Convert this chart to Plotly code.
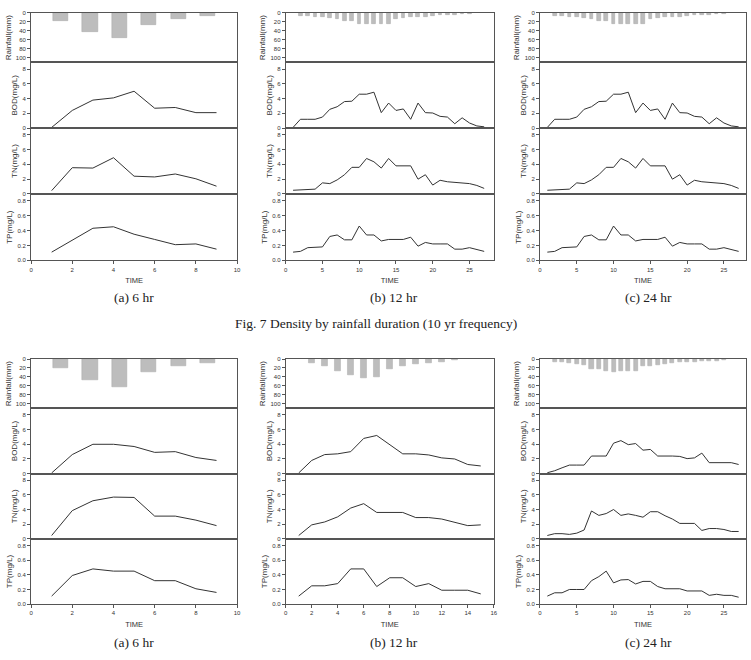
import plotly.graph_objects as go

W, H = 751, 660

# ---------------- data ----------------
# (a) 6 hr  -- hourly rainfall bars, 9 sampling times
rain_hours_6 = [1, 2, 3, 4, 5, 6]
time_6 = [1, 2, 3, 4, 5, 6, 7, 8, 9]

rain_a1 = [17, 42, 56, 26, 13, 7]
bod_a1 = [0.1, 2.4, 3.8, 4.1, 5.0, 2.7, 2.8, 2.1, 2.1]
tn_a1 = [0.45, 3.55, 3.5, 4.9, 2.4, 2.3, 2.7, 2.05, 1.05]
tp_a1 = [0.11, 0.27, 0.43, 0.45, 0.35, 0.28, 0.21, 0.22, 0.15]

rain_a2 = [20, 48, 63, 30, 15, 8]
bod_a2 = [0.1, 2.6, 4.0, 4.0, 3.7, 2.9, 3.0, 2.2, 1.8]
tn_a2 = [0.45, 3.85, 5.2, 5.7, 5.65, 3.1, 3.1, 2.55, 1.8]
tp_a2 = [0.11, 0.39, 0.48, 0.45, 0.45, 0.32, 0.32, 0.21, 0.16]

# (b)/(c) long series, 27 sampling times
time_27 = list(range(1, 28))
rain_time_24 = list(range(2, 26))

rain_b1 = [6, 6, 8, 9, 12, 13, 18, 18, 24, 25, 25, 24, 24, 13, 12, 10, 9, 8, 6, 5, 5, 4, 3, 2]
bod_b1 = [0.1, 1.2, 1.2, 1.2, 1.5, 2.55, 2.9, 3.6, 3.65, 4.6, 4.6, 4.87, 2.1, 3.4,
          2.4, 2.6, 1.2, 3.4, 2.1, 2.05, 1.6, 1.5, 0.6, 1.4, 0.7, 0.3, 0.18]
tn_b1 = [0.5, 0.55, 0.65, 0.65, 1.5, 1.4, 1.9, 2.6, 3.6, 3.6, 4.8, 4.35, 3.5, 4.8,
         3.8, 3.8, 3.8, 2.0, 2.6, 1.2, 1.85, 1.65, 1.55, 1.55, 1.4, 1.15, 0.75]
tp_b1 = [0.11, 0.12, 0.17, 0.18, 0.18, 0.32, 0.34, 0.275, 0.275, 0.46, 0.34, 0.34,
         0.26, 0.28, 0.28, 0.28, 0.31, 0.19, 0.24, 0.22, 0.22, 0.22, 0.15, 0.15,
         0.17, 0.15, 0.12]

rain_c1 = [6, 6, 8, 9, 12, 13, 18, 18, 24, 25, 25, 24, 24, 13, 12, 10, 9, 8, 6, 5, 5, 4, 3, 2]
bod_c1 = [0.1, 1.2, 1.2, 1.2, 1.5, 2.55, 2.9, 3.6, 3.65, 4.6, 4.6, 4.87, 2.1, 3.4,
          2.4, 2.6, 1.2, 3.4, 2.1, 2.05, 1.6, 1.5, 0.6, 1.4, 0.7, 0.3, 0.18]
tn_c1 = [0.5, 0.55, 0.65, 0.65, 1.5, 1.4, 1.9, 2.6, 3.6, 3.6, 4.8, 4.35, 3.5, 4.8,
         3.8, 3.8, 3.8, 2.0, 2.6, 1.2, 1.85, 1.65, 1.55, 1.55, 1.4, 1.15, 0.75]
tp_c1 = [0.11, 0.12, 0.17, 0.18, 0.18, 0.32, 0.34, 0.275, 0.275, 0.46, 0.34, 0.34,
         0.26, 0.28, 0.28, 0.28, 0.31, 0.19, 0.24, 0.22, 0.22, 0.22, 0.15, 0.15,
         0.17, 0.15, 0.12]

# (b) 12 hr, lower figure: 15 sampling times, rainfall at times 2..13
time_15 = list(range(1, 16))
rain_time_12 = list(range(2, 14))
rain_b2 = [10, 16, 27, 37, 42, 40, 22, 16, 12, 9, 6, 3]
bod_b2 = [0.1, 1.8, 2.6, 2.7, 3.0, 4.8, 5.2, 3.9, 2.7, 2.7, 2.55, 2.15, 2.0, 1.25, 1.05]
tn_b2 = [0.45, 1.9, 2.3, 3.0, 4.2, 4.8, 3.6, 3.6, 3.6, 2.9, 2.9, 2.7, 2.2, 1.8, 1.9]
tp_b2 = [0.11, 0.25, 0.25, 0.28, 0.48, 0.48, 0.24, 0.36, 0.36, 0.24, 0.28, 0.19,
         0.19, 0.19, 0.14]

# (c) 24 hr, lower figure
rain_c2 = [7, 7, 10, 12, 13, 22, 22, 28, 29, 28, 28, 28, 15, 15, 13, 12, 10, 7, 7, 6, 5, 4, 4, 2]
bod_c2 = [0.13, 0.4, 0.8, 1.17, 1.17, 1.17, 2.4, 2.4, 2.4, 4.15, 4.5, 3.95, 4.1, 3.2,
          3.3, 2.4, 2.45, 2.4, 2.35, 2.05, 2.15, 2.8, 1.5, 1.5, 1.5, 1.5, 1.25]
tn_c2 = [0.45, 0.7, 0.7, 0.6, 0.77, 1.2, 3.8, 3.2, 3.45, 4.0, 3.2, 3.4, 3.2, 2.95,
         3.7, 3.7, 3.15, 2.7, 2.1, 2.1, 2.1, 1.14, 1.4, 1.4, 1.27, 1.0, 1.0]
tp_c2 = [0.11, 0.155, 0.155, 0.2, 0.2, 0.2, 0.32, 0.375, 0.45, 0.29, 0.33, 0.335,
         0.275, 0.31, 0.31, 0.24, 0.21, 0.21, 0.21, 0.18, 0.18, 0.18, 0.12, 0.135,
         0.12, 0.12, 0.095]

y_titles = ["Rainfall(mm)", "BOD(mg/L)", "TN(mg/L)", "TP(mg/L)"]
captions = ["(a) 6 hr", "(b) 12 hr", "(c) 24 hr"]
fig_title = "Fig. 7 Density by rainfall duration (10 yr frequency)"

# ---------------- layout geometry (pixels) ----------------
cols_px = [(29.3, 237.0), (286.0, 495.7), (542.3, 750.0)]
rows_px_top = [(10.0, 60.0), (60.0, 126.3), (126.3, 192.7), (192.7, 259.7)]
rows_px_bot = [(359.3, 409.0), (409.0, 475.0), (475.0, 540.7), (540.7, 606.7)]

panels = [
    dict(col=0, rows=rows_px_top, rx=rain_hours_6, rain=rain_a1, rxrange=[0, 7], bw=0.52,
         t=time_6, bod=bod_a1, tn=tn_a1, tp=tp_a1, xrange=[0, 10], dtick=2),
    dict(col=1, rows=rows_px_top, rx=rain_time_24, rain=rain_b1, rxrange=None, bw=0.5,
         t=time_27, bod=bod_b1, tn=tn_b1, tp=tp_b1, xrange=[0, 28.3], dtick=5),
    dict(col=2, rows=rows_px_top, rx=rain_time_24, rain=rain_c1, rxrange=None, bw=0.5,
         t=time_27, bod=bod_c1, tn=tn_c1, tp=tp_c1, xrange=[0, 28.0], dtick=5),
    dict(col=0, rows=rows_px_bot, rx=rain_hours_6, rain=rain_a2, rxrange=[0, 7], bw=0.52,
         t=time_6, bod=bod_a2, tn=tn_a2, tp=tp_a2, xrange=[0, 10], dtick=2),
    dict(col=1, rows=rows_px_bot, rx=rain_time_12, rain=rain_b2, rxrange=None, bw=0.5,
         t=time_15, bod=bod_b2, tn=tn_b2, tp=tp_b2, xrange=[0, 16], dtick=2),
    dict(col=2, rows=rows_px_bot, rx=rain_time_24, rain=rain_c2, rxrange=None, bw=0.55,
         t=time_27, bod=bod_c2, tn=tn_c2, tp=tp_c2, xrange=[0, 28.0], dtick=5),
]

AX_FONT = "Liberation Sans, Arial, sans-serif"
LINE_COL = "#555555"
TICK_FONT = dict(family=AX_FONT, size=6, color="#333333")
TITLE_FONT = dict(family=AX_FONT, size=8, color="#333333")

fig = go.Figure()
layout = {}

n = 0
for p in panels:
    x0, x1 = cols_px[p["col"]]
    series = [p["rain"], p["bod"], p["tn"], p["tp"]]
    yranges = [[111, 0], [0, 8.9], [0, 8.9], [0, 0.89]]
    ydticks = [20, 2, 2, 0.2]
    for r in range(4):
        n += 1
        xa = "x" if n == 1 else f"x{n}"
        ya = "y" if n == 1 else f"y{n}"
        if r == 0:
            fig.add_trace(go.Bar(x=p["rx"], y=p["rain"], width=p["bw"], xaxis=xa, yaxis=ya,
                                 marker=dict(color="#bdbdbd", line=dict(color="#a8a8a8", width=0.5))))
        else:
            fig.add_trace(go.Scatter(x=p["t"], y=series[r], mode="lines", xaxis=xa, yaxis=ya,
                                     line=dict(color="#333333", width=1)))
        y0, y1 = p["rows"][r]
        xr = p["rxrange"] if (r == 0 and p["rxrange"]) else p["xrange"]
        xkey = "xaxis" if n == 1 else f"xaxis{n}"
        ykey = "yaxis" if n == 1 else f"yaxis{n}"
        xd = dict(domain=[x0 / W, x1 / W], anchor=ya, range=xr, showline=True, mirror=True,
                  linecolor=LINE_COL, linewidth=1, showgrid=False, zeroline=False,
                  fixedrange=True)
        if r == 3:
            xd.update(ticks="outside", ticklen=3, tickwidth=0.8, tickcolor=LINE_COL,
                      dtick=p["dtick"], tick0=0, tickfont=TICK_FONT,
                      title=dict(text="TIME", font=dict(family=AX_FONT, size=7.5, color="#333"),
                                 standoff=6))
        else:
            xd.update(showticklabels=False, ticks="")
        yd = dict(domain=[1 - y1 / H, 1 - y0 / H], anchor=xa, range=yranges[r],
                  showline=True, mirror=True, linecolor=LINE_COL, linewidth=1,
                  showgrid=False, zeroline=False, ticks="outside", ticklen=3, tickwidth=0.8,
                  tickcolor=LINE_COL, dtick=ydticks[r], tick0=0, tickfont=TICK_FONT,
                  title=dict(text=y_titles[r], font=TITLE_FONT, standoff=3), fixedrange=True)
        if r == 0:
            yd.update(tickvals=[0, 20, 40, 60, 80, 100])
        if r == 3:
            yd.update(tickformat=".1f")
        layout[xkey] = xd
        layout[ykey] = yd

annotations = []
CAP_FONT = dict(family="Liberation Serif, Times New Roman, serif", size=13.5, color="#222222")
for i, (cx0, cx1) in enumerate(cols_px):
    cx = [133, 395, 652][i]
    for cy in (297, 645):
        annotations.append(dict(text=captions[i], x=cx / W, y=1 - cy / H, xref="paper",
                                yref="paper", showarrow=False, font=CAP_FONT,
                                xanchor="center", yanchor="middle"))
annotations.append(dict(text=fig_title, x=377 / W, y=1 - 323 / H, xref="paper", yref="paper",
                        showarrow=False, font=CAP_FONT, xanchor="center", yanchor="middle"))

fig.update_layout(
    width=W, height=H, margin=dict(l=0, r=0, t=0, b=0),
    paper_bgcolor="white", plot_bgcolor="white", showlegend=False,
    bargap=0, annotations=annotations, **layout
)

fig.write_html("out.html")
